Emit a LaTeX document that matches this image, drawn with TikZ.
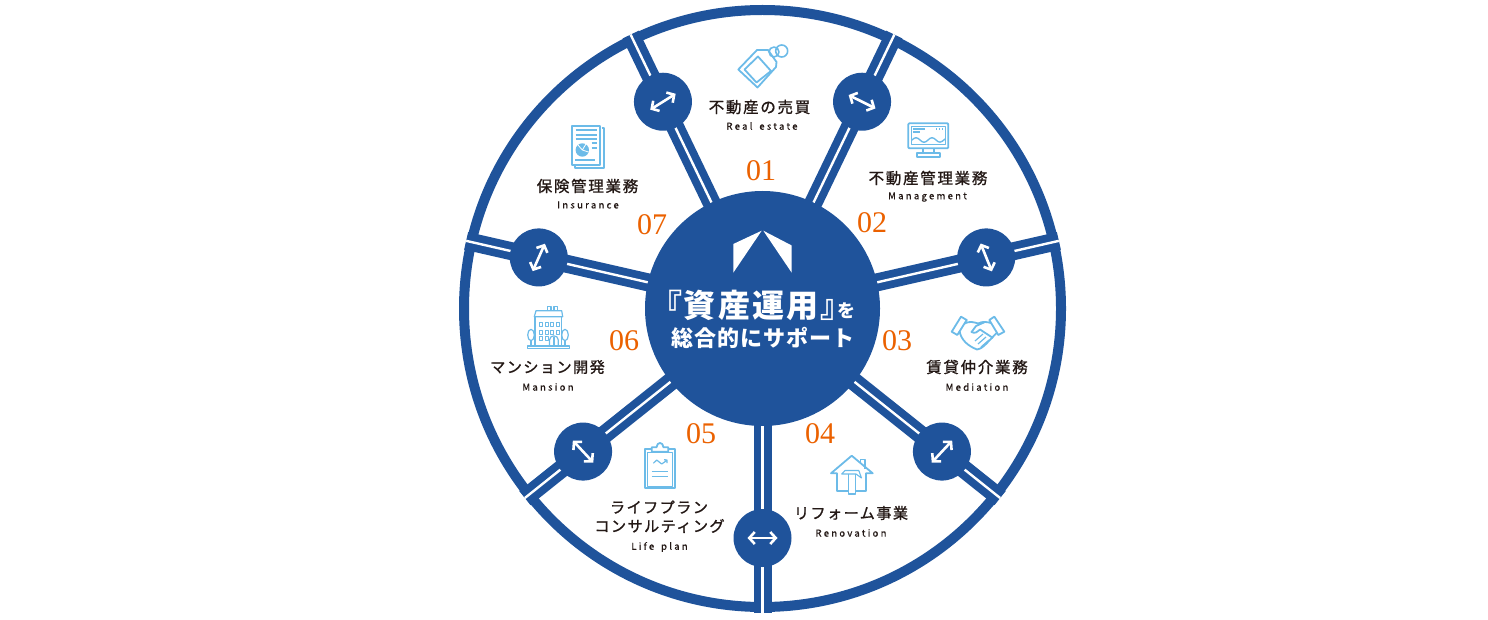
\documentclass[tikz,border=0pt]{standalone}
\usepackage{fontspec}
\usetikzlibrary{arrows.meta,calc}
\newfontfamily\jptitle{Noto Sans CJK JP}[LetterSpace=11,FakeBold=1.1]
\newfontfamily\jpkana{Noto Sans CJK JP}[LetterSpace=9,FakeBold=1.1]
\newfontfamily\jpsub{Noto Sans CJK JP}[LetterSpace=24,FakeBold=0.7]
\newfontfamily\jphub{Noto Sans CJK JP}[LetterSpace=7,RawFeature=+palt]
\newfontfamily\jphubb{Noto Sans CJK JP}[LetterSpace=4.5]
\newfontfamily\numfont{Liberation Serif}
\definecolor{wheelblue}{HTML}{1F539B}
\definecolor{iconblue}{HTML}{6CBBE8}
\definecolor{numorange}{HTML}{EB6100}
\definecolor{inkdark}{HTML}{231815}
\tikzset{
    ring/.style={circle,draw=wheelblue,line width=10pt,minimum size=597pt,inner sep=0pt},
    hubdisc/.style={circle,fill=wheelblue,minimum size=235pt,inner sep=0pt},
    knob/.style={circle,fill=wheelblue,minimum size=58pt,inner sep=0pt},
    spoke/.style={draw=wheelblue,line width=18pt,shorten <=-2pt},
    spokeslit/.style={draw=white,line width=2.4pt},
    swap/.style={draw=white,line width=2.6pt,{Straight Barb[length=5.5pt,width=12pt]}-{Straight Barb[length=5.5pt,width=12pt]}},
    title/.style={text=inkdark,font=\jptitle\fontsize{15.5}{19}\selectfont,align=center,inner sep=0pt},
    kanatitle/.style={text=inkdark,font=\jpkana\fontsize{15.2}{19}\selectfont,align=center,inner sep=0pt},
    subtitle/.style={text=inkdark,font=\jpsub\fontsize{9.5}{12}\selectfont,inner sep=0pt},
    num/.style={text=numorange,font=\numfont\fontsize{30}{30}\selectfont,inner sep=0pt},
    hubtext/.style={text=white,inner sep=0pt},
    icon/.style={draw=iconblue,line width=1.8pt,line join=round},
    iconfill/.style={fill=iconblue},
}
\begin{document}
\begin{tikzpicture}[x=1pt,y=-1pt]
    \useasboundingbox (0,0) rectangle (1488,620);
    % wheel
    \node[ring] (rim) at (762.5,308.5) {};
    \node[hubdisc] (hub) at (762.5,308.5) {};
    \foreach \a/\t [count=\i] in {-64.29/26.5,-12.86/68,38.57/-47,90/0,141.43/47,192.86/-66,244.29/-32} {
        \coordinate (end\i) at ($(hub.center)+(\a:304)$);
        \draw[spoke] (hub) -- (end\i);
        \draw[spokeslit] (hub) -- (end\i);
        \node[knob] (knob\i) at ($(hub.center)+(\a:229.5)$) {};
        \coordinate (tipa\i) at ($(knob\i)+(\t:15)$);
        \coordinate (tipb\i) at ($(knob\i)+(\t+180:15)$);
        \draw[swap] (tipa\i) -- (tipb\i);
    }
    % logo and centre text
    \fill[white] (733.3,244) -- (761.7,230.7) -- (733.3,272.7) -- cycle;
    \fill[white] (763.3,230.7) -- (791.7,245.5) -- (791.7,272.7) -- cycle;
    \node[hubtext,font=\jphub\bfseries] (hubline) at (760.5,305) {\fontsize{32}{34}\selectfont 『資産運用』\hspace{1pt}\fontsize{18}{34}\selectfont を};
    \node[hubtext,font=\jphubb\bfseries] (hubsub) at (763,337.5) {\fontsize{22}{26}\selectfont 総合的にサポート};
    % labels
    \node[title] (t1) at (759.5,107) {不動産の売買};
    \node[subtitle] (s1) at (762,126) {Real\hspace{2.5pt} estate};
    \node[title] (t2) at (928,178) {不動産管理業務};
    \node[subtitle] (s2) at (927.5,197) {Management};
    \node[title] (t3) at (977,367) {賃貸仲介業務};
    \node[subtitle] (s3) at (977,387) {Mediation};
    \node[kanatitle] (t4) at (851,513) {リフォーム事業};
    \node[subtitle] (s4) at (851,533) {Renovation};
    \node[kanatitle] (t5a) at (659,507) {ライフプラン};
    \node[kanatitle] (t5b) at (659.5,526) {コンサルティング};
    \node[subtitle] (s5) at (659.5,547) {Life\hspace{2.5pt} plan};
    \node[kanatitle] (t6) at (547.5,367) {マンション開発};
    \node[subtitle] (s6) at (548,387) {Mansion};
    \node[title] (t7) at (587.5,186) {保険管理業務};
    \node[subtitle] (s7) at (588,205) {Insurance};
    % numbers
    \node[num] (n1) at (761,171) {01};
    \node[num] (n2) at (872,223) {02};
    \node[num] (n3) at (897,341) {03};
    \node[num] (n4) at (820,434) {04};
    \node[num] (n5) at (701,434) {05};
    \node[num] (n6) at (624,341) {06};
    \node[num] (n7) at (652,225) {07};
    % tag icon
    \draw[icon] (738.3,69.5) -- (757,50) -- (768,50) -- (776.5,62) -- (776,67) -- (757.5,87.5) -- cycle;
    \draw[icon] (744.5,69.5) -- (758,56.5) -- (771,71) -- (756.5,82.5) -- cycle;
    \draw[icon,line width=1.6pt] (774,52) circle (5);
    \draw[icon,line width=1.6pt] (781.7,51) circle (6);
    % monitor icon
    \draw[icon,rounded corners=1pt] (908.3,123.3) rectangle (948.3,148.3);
    \draw[icon,line width=1pt] (911.7,126.7) rectangle (945,145);
    \draw[icon] (923,148.3) -- (923,153.3) (934,148.3) -- (934,153.3);
    \draw[icon] (917.3,153.3) rectangle (940,157);
    \draw[icon,line width=1.2pt] (913.3,129) -- (925,129) (913.3,132) -- (920,132);
    \draw[icon,line width=1.2pt,dotted] (936,129) -- (943,129);
    \draw[icon,line width=1.4pt] (912,140) .. controls (915,137) and (917,137) .. (920,140) .. controls (923,143) and (925,143) .. (928,140) .. controls (931,137) and (933,137) .. (936,140) .. controls (939,143) and (941,143) .. (945,139);
    % handshake icon
    \draw[icon] (951.7,331.7) -- (961,316.7) -- (966.7,320) -- (957.3,335) -- cycle;
    \draw[icon] (994.3,316.7) -- (1004.3,331.7) -- (998.3,335) -- (989.3,320) -- cycle;
    \draw[icon] (964.5,323.5) .. controls (969,321) and (974,322) .. (978,323.5) .. controls (983,321) and (987,322) .. (991,323);
    \draw[icon] (959.5,331) .. controls (961,340) and (968,346) .. (977,349.5) .. controls (981,349) and (984,346) .. (987,343) -- (997,332.5);
    \draw[icon] (985,322) -- (976,326) -- (971.5,332) .. controls (975,334) and (977,332) .. (980,329.5) -- (993,338);
    \draw[icon,line width=1.2pt] (975,341) -- (983,334) (978,344) -- (986,337) (981,347) -- (989,340);
    % house icon
    \draw[icon] (837.3,473.3) -- (831,473.3) -- (851.7,455.7) -- (872.7,473.3) -- (866,473.3) -- (866,491) -- (855.5,491);
    \draw[icon] (837.3,473.3) -- (837.3,491) -- (848,491);
    \draw[icon,line width=1.2pt] (860.7,461.5) -- (860.7,459.5) -- (865,459.5) -- (865,468.5);
    \draw[icon,line width=1.1pt] (841.7,474) -- (845,470.5) -- (858.8,470.5) -- (861.5,478) -- (856,474) -- cycle;
    \draw[icon,line width=1.1pt] (848.3,474) -- (848.3,494) -- (855.5,494) -- (855.5,474);
    % clipboard icon
    \draw[icon] (645,449.3) rectangle (675,488.3);
    \draw[icon,line width=1pt] (647.7,452.7) rectangle (672.3,486);
    \draw[icon,fill=white] (651.7,451.7) -- (651.7,447.3) -- (656.5,447.3) .. controls (657,441.5) and (663,441.5) .. (663.5,447.3) -- (668.3,447.3) -- (668.3,451.7) -- cycle;
    \draw[icon,line width=1.2pt] (653.3,463.3) -- (656.7,460) -- (661.7,464) -- (666.7,460.5) (664,459.7) -- (667,460) -- (667,463);
    \draw[icon,line width=1.4pt] (651.7,471.7) -- (668.3,471.7) (651.7,476.7) -- (668.3,476.7);
    % building icon
    \draw[icon,line width=1.2pt] (527.3,346) rectangle (569.3,348.6);
    \draw[icon,line width=1.2pt] (535,316.7) -- (535,346) (561.7,316.7) -- (561.7,346);
    \draw[icon,line width=1.2pt] (534.3,316.7) -- (536,310.7) -- (561.7,310.7) -- (562.7,316.7) -- cycle;
    \draw[icon,line width=1.2pt] (547.3,306.7) rectangle (551,310.7);
    \draw[icon,line width=1.2pt] (554,306.7) rectangle (557.7,310.7);
    \foreach \x in {539.3,545,550.7,556} {
        \draw[icon,line width=.9pt] (\x,322.7) rectangle +(3,4);
        \draw[icon,line width=.9pt] (\x,330) rectangle +(3,4);
    }
    \draw[icon,line width=.9pt] (539.3,336.7) rectangle +(3,4);
    \draw[icon,line width=.9pt] (545,336.7) rectangle +(3,4);
    \draw[icon,line width=1.2pt] (549.5,346) -- (549.5,340) .. controls (549.5,334.5) and (558.3,334.5) .. (558.3,340) -- (558.3,346);
    \draw[icon,line width=1.2pt] (553.9,336.5) -- (553.9,346);
    \draw[icon,line width=1.2pt] (531,335) ellipse (3.3 and 5.7);
    \draw[icon,line width=1.2pt] (565,335) ellipse (3.3 and 5.7);
    \draw[icon,line width=1.2pt] (531,340.7) -- (531,346) (565,340.7) -- (565,346);
    % insurance sheet icon
    \draw[icon] (601.5,128) -- (604.3,128) -- (604.3,168.3) -- (575,168.3) -- (575,166.5);
    \draw[icon,line width=2.2pt] (572.2,126.2) rectangle (600.2,165.2);
    \draw[icon] (575.5,130) -- (596.7,130) (575.5,134.7) -- (596.7,134.7) (575.5,139.3) -- (596.7,139.3);
    \draw[icon] (591.7,143.3) -- (596.7,143.3) (591.7,148.3) -- (596.7,148.3) (575,160) -- (595,160);
    \fill[iconfill] (582.3,150) circle (6.7);
    \draw[white,line width=.8pt] (582.3,150) -- (586,144) (582.3,150) -- (588.5,152) (582.3,150) -- (578,145);
\end{tikzpicture}
\end{document}
